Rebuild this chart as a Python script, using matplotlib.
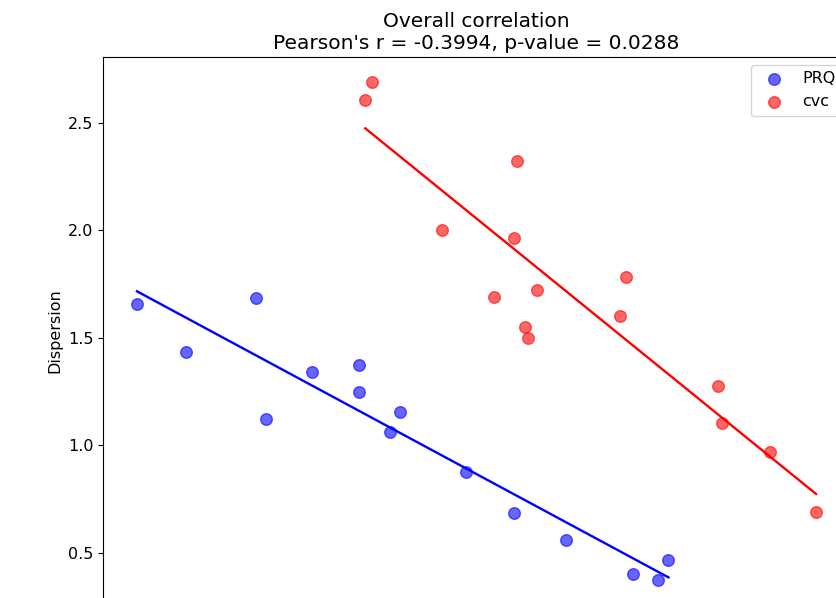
import numpy as np
import matplotlib
matplotlib.use("Agg")
import matplotlib.pyplot as plt

# Values (x axis has no visible labels: arbitrary units)
prq_x = [0.34, 0.83, 1.53, 1.63, 2.10, 2.57, 2.57, 2.98, 2.88, 3.64, 4.12, 4.64, 5.31, 5.57, 5.67]
prq_y = [1.658, 1.435, 1.686, 1.123, 1.342, 1.374, 1.249, 1.156, 1.063, 0.877, 0.686, 0.560, 0.402, 0.374, 0.467]

cvc_x = [2.63, 2.70, 3.40, 4.15, 4.12, 3.92, 4.35, 4.23, 4.26, 5.24, 5.18, 6.17, 6.21, 6.69, 7.15]
cvc_y = [2.607, 2.691, 2.002, 2.323, 1.965, 1.691, 1.723, 1.551, 1.500, 1.784, 1.602, 1.277, 1.105, 0.970, 0.691]

r_text = "Pearson's r = -0.3994, p-value = 0.0288"

fig = plt.figure(figsize=(8.37, 5.98), dpi=100)
# axes run past the right and bottom edges, as in the cropped reference
ax = fig.add_axes([103 / 837, -7 / 598, 747 / 837, 548 / 598])

for xs, ys, col, lab in [(prq_x, prq_y, "blue", "PRQ"), (cvc_x, cvc_y, "red", "cvc")]:
    xs = np.asarray(xs)
    ys = np.asarray(ys)
    ax.scatter(xs, ys, color=col, alpha=0.6, s=70, label=lab)
    k, b = np.polyfit(xs, ys, 1)
    xl = np.array([xs.min(), xs.max()])
    ax.plot(xl, k * xl + b, color=col, lw=1.7)

ax.set_ylabel("Dispersion", fontsize=11.5)
ax.set_title("Overall correlation\n" + r_text, fontsize=14.5, pad=6)
ax.tick_params(axis="y", labelsize=11.5)
# x tick labels sit below the visible area in the reference
ax.tick_params(axis="x", labelbottom=False)
ax.legend(loc="upper right", fontsize=11.5)

fig.savefig("out.png", dpi=100)
